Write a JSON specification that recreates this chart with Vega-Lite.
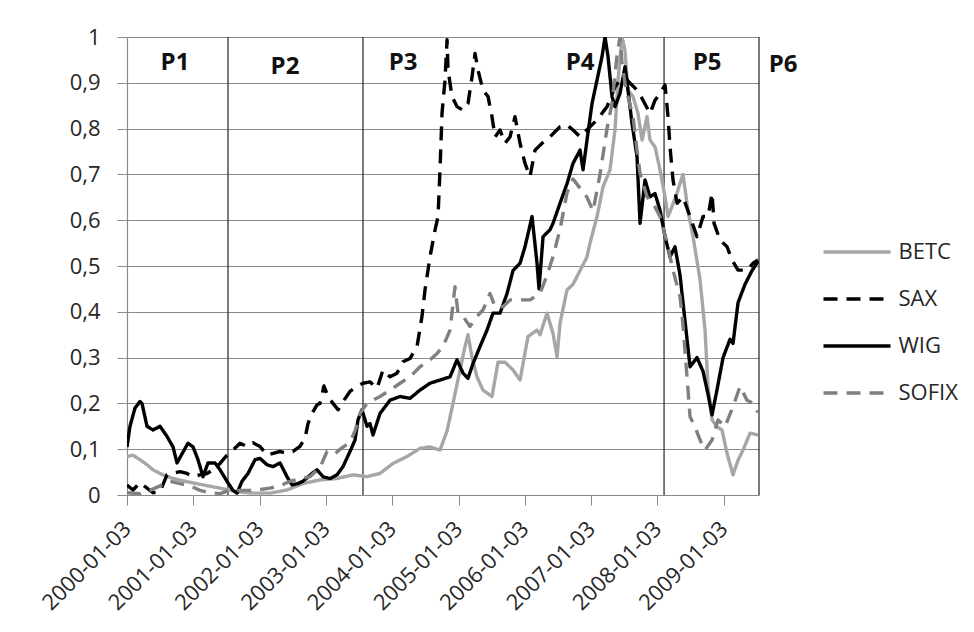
{
  "$schema": "https://vega.github.io/schema/vega-lite/v6.json",
  "width": 632,
  "height": 458,
  "autosize": {"type": "none"},
  "padding": {"left": 127, "top": 37, "right": 215, "bottom": 137},
  "background": "white",
  "config": {"view": {"stroke": null}, "font": "Open Sans"},
  "layer": [
    {
      "data": {"values": [
        {"t": 2001.523}, {"t": 2003.559}, {"t": 2008.100}, {"t": 2009.532}
      ]},
      "mark": {"type": "rule", "color": "#333333", "strokeWidth": 1.3},
      "encoding": {"x": {"field": "t", "type": "quantitative"}}
    },
    {
      "data": {"values": [
        {"s":"BETC","t":2000.000,"v":0.084},{"s":"BETC","t":2000.090,"v":0.087},{"s":"BETC","t":2000.196,"v":0.077},{"s":"BETC","t":2000.302,"v":0.066},{"s":"BETC","t":2000.392,"v":0.055},{"s":"BETC","t":2000.543,"v":0.044},{"s":"BETC","t":2000.694,"v":0.036},{"s":"BETC","t":2000.905,"v":0.029},{"s":"BETC","t":2001.146,"v":0.022},{"s":"BETC","t":2001.403,"v":0.015},{"s":"BETC","t":2001.659,"v":0.007},{"s":"BETC","t":2001.900,"v":0.004},{"s":"BETC","t":2002.157,"v":0.004},{"s":"BETC","t":2002.413,"v":0.011},{"s":"BETC","t":2002.655,"v":0.025},{"s":"BETC","t":2002.911,"v":0.033},{"s":"BETC","t":2003.167,"v":0.036},{"s":"BETC","t":2003.409,"v":0.044},{"s":"BETC","t":2003.620,"v":0.040},{"s":"BETC","t":2003.816,"v":0.047},{"s":"BETC","t":2004.012,"v":0.069},{"s":"BETC","t":2004.223,"v":0.084},{"s":"BETC","t":2004.419,"v":0.102},{"s":"BETC","t":2004.570,"v":0.105},{"s":"BETC","t":2004.721,"v":0.098},{"s":"BETC","t":2004.827,"v":0.140},{"s":"BETC","t":2004.917,"v":0.200},{"s":"BETC","t":2005.023,"v":0.273},{"s":"BETC","t":2005.098,"v":0.324},{"s":"BETC","t":2005.143,"v":0.350},{"s":"BETC","t":2005.204,"v":0.300},{"s":"BETC","t":2005.279,"v":0.258},{"s":"BETC","t":2005.369,"v":0.229},{"s":"BETC","t":2005.505,"v":0.215},{"s":"BETC","t":2005.596,"v":0.290},{"s":"BETC","t":2005.701,"v":0.290},{"s":"BETC","t":2005.822,"v":0.273},{"s":"BETC","t":2005.928,"v":0.251},{"s":"BETC","t":2006.048,"v":0.346},{"s":"BETC","t":2006.184,"v":0.360},{"s":"BETC","t":2006.229,"v":0.350},{"s":"BETC","t":2006.335,"v":0.397},{"s":"BETC","t":2006.425,"v":0.353},{"s":"BETC","t":2006.486,"v":0.302},{"s":"BETC","t":2006.531,"v":0.375},{"s":"BETC","t":2006.637,"v":0.448},{"s":"BETC","t":2006.727,"v":0.460},{"s":"BETC","t":2006.833,"v":0.490},{"s":"BETC","t":2006.938,"v":0.520},{"s":"BETC","t":2006.983,"v":0.550},{"s":"BETC","t":2007.089,"v":0.608},{"s":"BETC","t":2007.180,"v":0.673},{"s":"BETC","t":2007.285,"v":0.710},{"s":"BETC","t":2007.360,"v":0.797},{"s":"BETC","t":2007.406,"v":0.906},{"s":"BETC","t":2007.466,"v":1.000},{"s":"BETC","t":2007.511,"v":0.970},{"s":"BETC","t":2007.556,"v":0.884},{"s":"BETC","t":2007.632,"v":0.870},{"s":"BETC","t":2007.707,"v":0.833},{"s":"BETC","t":2007.768,"v":0.775},{"s":"BETC","t":2007.843,"v":0.826},{"s":"BETC","t":2007.888,"v":0.775},{"s":"BETC","t":2007.964,"v":0.760},{"s":"BETC","t":2008.039,"v":0.710},{"s":"BETC","t":2008.115,"v":0.651},{"s":"BETC","t":2008.160,"v":0.608},{"s":"BETC","t":2008.220,"v":0.630},{"s":"BETC","t":2008.296,"v":0.660},{"s":"BETC","t":2008.386,"v":0.700},{"s":"BETC","t":2008.462,"v":0.620},{"s":"BETC","t":2008.537,"v":0.564},{"s":"BETC","t":2008.643,"v":0.470},{"s":"BETC","t":2008.718,"v":0.360},{"s":"BETC","t":2008.763,"v":0.237},{"s":"BETC","t":2008.824,"v":0.164},{"s":"BETC","t":2008.899,"v":0.149},{"s":"BETC","t":2008.974,"v":0.142},{"s":"BETC","t":2009.050,"v":0.091},{"s":"BETC","t":2009.140,"v":0.044},{"s":"BETC","t":2009.216,"v":0.076},{"s":"BETC","t":2009.291,"v":0.098},{"s":"BETC","t":2009.397,"v":0.135},{"s":"BETC","t":2009.517,"v":0.131},

        {"s":"SAX","t":2000.000,"v":0.022},{"s":"SAX","t":2000.090,"v":0.011},{"s":"SAX","t":2000.196,"v":0.027},{"s":"SAX","t":2000.302,"v":0.015},{"s":"SAX","t":2000.392,"v":0.005},{"s":"SAX","t":2000.498,"v":0.007},{"s":"SAX","t":2000.603,"v":0.044},{"s":"SAX","t":2000.694,"v":0.047},{"s":"SAX","t":2000.799,"v":0.051},{"s":"SAX","t":2000.905,"v":0.047},{"s":"SAX","t":2000.996,"v":0.040},{"s":"SAX","t":2001.101,"v":0.044},{"s":"SAX","t":2001.207,"v":0.047},{"s":"SAX","t":2001.297,"v":0.055},{"s":"SAX","t":2001.403,"v":0.069},{"s":"SAX","t":2001.508,"v":0.087},{"s":"SAX","t":2001.599,"v":0.098},{"s":"SAX","t":2001.704,"v":0.113},{"s":"SAX","t":2001.810,"v":0.106},{"s":"SAX","t":2001.900,"v":0.114},{"s":"SAX","t":2002.006,"v":0.106},{"s":"SAX","t":2002.112,"v":0.087},{"s":"SAX","t":2002.202,"v":0.091},{"s":"SAX","t":2002.308,"v":0.095},{"s":"SAX","t":2002.413,"v":0.091},{"s":"SAX","t":2002.504,"v":0.095},{"s":"SAX","t":2002.609,"v":0.106},{"s":"SAX","t":2002.685,"v":0.124},{"s":"SAX","t":2002.730,"v":0.156},{"s":"SAX","t":2002.790,"v":0.178},{"s":"SAX","t":2002.866,"v":0.197},{"s":"SAX","t":2002.911,"v":0.200},{"s":"SAX","t":2002.971,"v":0.238},{"s":"SAX","t":2003.032,"v":0.215},{"s":"SAX","t":2003.107,"v":0.200},{"s":"SAX","t":2003.183,"v":0.186},{"s":"SAX","t":2003.258,"v":0.204},{"s":"SAX","t":2003.363,"v":0.226},{"s":"SAX","t":2003.469,"v":0.237},{"s":"SAX","t":2003.559,"v":0.244},{"s":"SAX","t":2003.665,"v":0.247},{"s":"SAX","t":2003.771,"v":0.233},{"s":"SAX","t":2003.861,"v":0.273},{"s":"SAX","t":2003.967,"v":0.258},{"s":"SAX","t":2004.072,"v":0.266},{"s":"SAX","t":2004.163,"v":0.291},{"s":"SAX","t":2004.268,"v":0.298},{"s":"SAX","t":2004.374,"v":0.324},{"s":"SAX","t":2004.449,"v":0.390},{"s":"SAX","t":2004.495,"v":0.448},{"s":"SAX","t":2004.570,"v":0.520},{"s":"SAX","t":2004.646,"v":0.579},{"s":"SAX","t":2004.691,"v":0.608},{"s":"SAX","t":2004.721,"v":0.710},{"s":"SAX","t":2004.751,"v":0.833},{"s":"SAX","t":2004.796,"v":0.906},{"s":"SAX","t":2004.827,"v":0.994},{"s":"SAX","t":2004.842,"v":0.928},{"s":"SAX","t":2004.902,"v":0.870},{"s":"SAX","t":2004.977,"v":0.848},{"s":"SAX","t":2005.068,"v":0.840},{"s":"SAX","t":2005.143,"v":0.855},{"s":"SAX","t":2005.204,"v":0.913},{"s":"SAX","t":2005.249,"v":0.964},{"s":"SAX","t":2005.294,"v":0.928},{"s":"SAX","t":2005.369,"v":0.884},{"s":"SAX","t":2005.445,"v":0.870},{"s":"SAX","t":2005.505,"v":0.826},{"s":"SAX","t":2005.551,"v":0.782},{"s":"SAX","t":2005.626,"v":0.797},{"s":"SAX","t":2005.701,"v":0.768},{"s":"SAX","t":2005.777,"v":0.782},{"s":"SAX","t":2005.852,"v":0.826},{"s":"SAX","t":2005.928,"v":0.768},{"s":"SAX","t":2006.003,"v":0.724},{"s":"SAX","t":2006.078,"v":0.695},{"s":"SAX","t":2006.154,"v":0.753},{"s":"SAX","t":2006.260,"v":0.768},{"s":"SAX","t":2006.380,"v":0.782},{"s":"SAX","t":2006.531,"v":0.804},{"s":"SAX","t":2006.637,"v":0.808},{"s":"SAX","t":2006.727,"v":0.797},{"s":"SAX","t":2006.833,"v":0.782},{"s":"SAX","t":2006.983,"v":0.804},{"s":"SAX","t":2007.089,"v":0.819},{"s":"SAX","t":2007.240,"v":0.848},{"s":"SAX","t":2007.360,"v":0.891},{"s":"SAX","t":2007.436,"v":0.906},{"s":"SAX","t":2007.541,"v":0.906},{"s":"SAX","t":2007.692,"v":0.884},{"s":"SAX","t":2007.783,"v":0.862},{"s":"SAX","t":2007.888,"v":0.833},{"s":"SAX","t":2007.964,"v":0.862},{"s":"SAX","t":2008.039,"v":0.877},{"s":"SAX","t":2008.115,"v":0.895},{"s":"SAX","t":2008.160,"v":0.826},{"s":"SAX","t":2008.190,"v":0.760},{"s":"SAX","t":2008.235,"v":0.688},{"s":"SAX","t":2008.296,"v":0.637},{"s":"SAX","t":2008.386,"v":0.651},{"s":"SAX","t":2008.492,"v":0.608},{"s":"SAX","t":2008.597,"v":0.564},{"s":"SAX","t":2008.688,"v":0.608},{"s":"SAX","t":2008.763,"v":0.608},{"s":"SAX","t":2008.824,"v":0.659},{"s":"SAX","t":2008.854,"v":0.593},{"s":"SAX","t":2008.944,"v":0.557},{"s":"SAX","t":2009.050,"v":0.542},{"s":"SAX","t":2009.125,"v":0.513},{"s":"SAX","t":2009.216,"v":0.491},{"s":"SAX","t":2009.351,"v":0.491},{"s":"SAX","t":2009.442,"v":0.506},{"s":"SAX","t":2009.517,"v":0.513},

        {"s":"WIG","t":2000.000,"v":0.105},{"s":"WIG","t":2000.045,"v":0.150},{"s":"WIG","t":2000.121,"v":0.190},{"s":"WIG","t":2000.196,"v":0.204},{"s":"WIG","t":2000.226,"v":0.200},{"s":"WIG","t":2000.302,"v":0.150},{"s":"WIG","t":2000.392,"v":0.142},{"s":"WIG","t":2000.498,"v":0.150},{"s":"WIG","t":2000.603,"v":0.128},{"s":"WIG","t":2000.694,"v":0.105},{"s":"WIG","t":2000.754,"v":0.070},{"s":"WIG","t":2000.830,"v":0.090},{"s":"WIG","t":2000.920,"v":0.113},{"s":"WIG","t":2000.996,"v":0.105},{"s":"WIG","t":2001.071,"v":0.077},{"s":"WIG","t":2001.146,"v":0.040},{"s":"WIG","t":2001.222,"v":0.070},{"s":"WIG","t":2001.327,"v":0.070},{"s":"WIG","t":2001.403,"v":0.055},{"s":"WIG","t":2001.508,"v":0.030},{"s":"WIG","t":2001.599,"v":0.010},{"s":"WIG","t":2001.659,"v":0.004},{"s":"WIG","t":2001.735,"v":0.030},{"s":"WIG","t":2001.825,"v":0.047},{"s":"WIG","t":2001.931,"v":0.077},{"s":"WIG","t":2002.006,"v":0.080},{"s":"WIG","t":2002.112,"v":0.066},{"s":"WIG","t":2002.202,"v":0.062},{"s":"WIG","t":2002.308,"v":0.070},{"s":"WIG","t":2002.413,"v":0.040},{"s":"WIG","t":2002.489,"v":0.022},{"s":"WIG","t":2002.579,"v":0.025},{"s":"WIG","t":2002.655,"v":0.030},{"s":"WIG","t":2002.790,"v":0.047},{"s":"WIG","t":2002.866,"v":0.055},{"s":"WIG","t":2002.956,"v":0.040},{"s":"WIG","t":2003.062,"v":0.036},{"s":"WIG","t":2003.167,"v":0.044},{"s":"WIG","t":2003.258,"v":0.062},{"s":"WIG","t":2003.363,"v":0.095},{"s":"WIG","t":2003.439,"v":0.120},{"s":"WIG","t":2003.484,"v":0.164},{"s":"WIG","t":2003.544,"v":0.186},{"s":"WIG","t":2003.620,"v":0.150},{"s":"WIG","t":2003.665,"v":0.156},{"s":"WIG","t":2003.710,"v":0.131},{"s":"WIG","t":2003.816,"v":0.178},{"s":"WIG","t":2003.967,"v":0.207},{"s":"WIG","t":2004.118,"v":0.215},{"s":"WIG","t":2004.268,"v":0.211},{"s":"WIG","t":2004.419,"v":0.229},{"s":"WIG","t":2004.570,"v":0.244},{"s":"WIG","t":2004.721,"v":0.251},{"s":"WIG","t":2004.872,"v":0.258},{"s":"WIG","t":2004.977,"v":0.295},{"s":"WIG","t":2005.068,"v":0.266},{"s":"WIG","t":2005.143,"v":0.255},{"s":"WIG","t":2005.219,"v":0.287},{"s":"WIG","t":2005.324,"v":0.324},{"s":"WIG","t":2005.430,"v":0.360},{"s":"WIG","t":2005.520,"v":0.397},{"s":"WIG","t":2005.626,"v":0.397},{"s":"WIG","t":2005.732,"v":0.440},{"s":"WIG","t":2005.822,"v":0.490},{"s":"WIG","t":2005.928,"v":0.506},{"s":"WIG","t":2006.003,"v":0.542},{"s":"WIG","t":2006.109,"v":0.608},{"s":"WIG","t":2006.184,"v":0.506},{"s":"WIG","t":2006.214,"v":0.450},{"s":"WIG","t":2006.275,"v":0.564},{"s":"WIG","t":2006.380,"v":0.579},{"s":"WIG","t":2006.425,"v":0.593},{"s":"WIG","t":2006.531,"v":0.637},{"s":"WIG","t":2006.637,"v":0.680},{"s":"WIG","t":2006.727,"v":0.724},{"s":"WIG","t":2006.833,"v":0.753},{"s":"WIG","t":2006.878,"v":0.710},{"s":"WIG","t":2006.938,"v":0.775},{"s":"WIG","t":2007.014,"v":0.855},{"s":"WIG","t":2007.089,"v":0.906},{"s":"WIG","t":2007.164,"v":0.957},{"s":"WIG","t":2007.210,"v":1.000},{"s":"WIG","t":2007.255,"v":0.957},{"s":"WIG","t":2007.315,"v":0.870},{"s":"WIG","t":2007.360,"v":0.848},{"s":"WIG","t":2007.436,"v":0.877},{"s":"WIG","t":2007.511,"v":0.935},{"s":"WIG","t":2007.556,"v":0.884},{"s":"WIG","t":2007.617,"v":0.811},{"s":"WIG","t":2007.692,"v":0.739},{"s":"WIG","t":2007.738,"v":0.593},{"s":"WIG","t":2007.813,"v":0.688},{"s":"WIG","t":2007.888,"v":0.651},{"s":"WIG","t":2007.964,"v":0.658},{"s":"WIG","t":2008.039,"v":0.622},{"s":"WIG","t":2008.115,"v":0.564},{"s":"WIG","t":2008.190,"v":0.520},{"s":"WIG","t":2008.265,"v":0.542},{"s":"WIG","t":2008.341,"v":0.480},{"s":"WIG","t":2008.416,"v":0.380},{"s":"WIG","t":2008.492,"v":0.280},{"s":"WIG","t":2008.597,"v":0.300},{"s":"WIG","t":2008.688,"v":0.270},{"s":"WIG","t":2008.763,"v":0.220},{"s":"WIG","t":2008.824,"v":0.175},{"s":"WIG","t":2008.899,"v":0.230},{"s":"WIG","t":2008.990,"v":0.300},{"s":"WIG","t":2009.095,"v":0.340},{"s":"WIG","t":2009.140,"v":0.331},{"s":"WIG","t":2009.216,"v":0.420},{"s":"WIG","t":2009.321,"v":0.460},{"s":"WIG","t":2009.427,"v":0.490},{"s":"WIG","t":2009.517,"v":0.510},

        {"s":"SOFIX","t":2000.000,"v":0.005},{"s":"SOFIX","t":2000.196,"v":0.003},{"s":"SOFIX","t":2000.347,"v":0.010},{"s":"SOFIX","t":2000.498,"v":0.020},{"s":"SOFIX","t":2000.649,"v":0.030},{"s":"SOFIX","t":2000.799,"v":0.025},{"s":"SOFIX","t":2000.950,"v":0.020},{"s":"SOFIX","t":2001.101,"v":0.010},{"s":"SOFIX","t":2001.252,"v":0.005},{"s":"SOFIX","t":2001.403,"v":0.003},{"s":"SOFIX","t":2001.554,"v":0.010},{"s":"SOFIX","t":2001.704,"v":0.010},{"s":"SOFIX","t":2001.855,"v":0.010},{"s":"SOFIX","t":2002.006,"v":0.012},{"s":"SOFIX","t":2002.157,"v":0.015},{"s":"SOFIX","t":2002.308,"v":0.020},{"s":"SOFIX","t":2002.459,"v":0.030},{"s":"SOFIX","t":2002.609,"v":0.035},{"s":"SOFIX","t":2002.760,"v":0.040},{"s":"SOFIX","t":2002.911,"v":0.060},{"s":"SOFIX","t":2003.017,"v":0.095},{"s":"SOFIX","t":2003.137,"v":0.090},{"s":"SOFIX","t":2003.213,"v":0.100},{"s":"SOFIX","t":2003.363,"v":0.115},{"s":"SOFIX","t":2003.439,"v":0.140},{"s":"SOFIX","t":2003.514,"v":0.178},{"s":"SOFIX","t":2003.620,"v":0.200},{"s":"SOFIX","t":2003.816,"v":0.215},{"s":"SOFIX","t":2003.967,"v":0.229},{"s":"SOFIX","t":2004.118,"v":0.244},{"s":"SOFIX","t":2004.268,"v":0.258},{"s":"SOFIX","t":2004.419,"v":0.280},{"s":"SOFIX","t":2004.570,"v":0.295},{"s":"SOFIX","t":2004.676,"v":0.309},{"s":"SOFIX","t":2004.766,"v":0.324},{"s":"SOFIX","t":2004.872,"v":0.360},{"s":"SOFIX","t":2004.947,"v":0.455},{"s":"SOFIX","t":2004.992,"v":0.397},{"s":"SOFIX","t":2005.068,"v":0.390},{"s":"SOFIX","t":2005.173,"v":0.368},{"s":"SOFIX","t":2005.279,"v":0.390},{"s":"SOFIX","t":2005.369,"v":0.404},{"s":"SOFIX","t":2005.475,"v":0.440},{"s":"SOFIX","t":2005.551,"v":0.411},{"s":"SOFIX","t":2005.671,"v":0.411},{"s":"SOFIX","t":2005.777,"v":0.426},{"s":"SOFIX","t":2005.928,"v":0.426},{"s":"SOFIX","t":2006.078,"v":0.426},{"s":"SOFIX","t":2006.229,"v":0.440},{"s":"SOFIX","t":2006.335,"v":0.480},{"s":"SOFIX","t":2006.425,"v":0.520},{"s":"SOFIX","t":2006.531,"v":0.580},{"s":"SOFIX","t":2006.637,"v":0.660},{"s":"SOFIX","t":2006.727,"v":0.690},{"s":"SOFIX","t":2006.833,"v":0.670},{"s":"SOFIX","t":2006.938,"v":0.650},{"s":"SOFIX","t":2007.029,"v":0.620},{"s":"SOFIX","t":2007.134,"v":0.700},{"s":"SOFIX","t":2007.240,"v":0.800},{"s":"SOFIX","t":2007.315,"v":0.855},{"s":"SOFIX","t":2007.391,"v":0.960},{"s":"SOFIX","t":2007.436,"v":1.000},{"s":"SOFIX","t":2007.466,"v":0.942},{"s":"SOFIX","t":2007.511,"v":0.899},{"s":"SOFIX","t":2007.556,"v":0.870},{"s":"SOFIX","t":2007.632,"v":0.826},{"s":"SOFIX","t":2007.692,"v":0.753},{"s":"SOFIX","t":2007.738,"v":0.702},{"s":"SOFIX","t":2007.843,"v":0.651},{"s":"SOFIX","t":2007.934,"v":0.637},{"s":"SOFIX","t":2008.039,"v":0.608},{"s":"SOFIX","t":2008.145,"v":0.550},{"s":"SOFIX","t":2008.235,"v":0.491},{"s":"SOFIX","t":2008.341,"v":0.433},{"s":"SOFIX","t":2008.386,"v":0.370},{"s":"SOFIX","t":2008.446,"v":0.258},{"s":"SOFIX","t":2008.492,"v":0.171},{"s":"SOFIX","t":2008.567,"v":0.149},{"s":"SOFIX","t":2008.643,"v":0.120},{"s":"SOFIX","t":2008.718,"v":0.098},{"s":"SOFIX","t":2008.824,"v":0.120},{"s":"SOFIX","t":2008.914,"v":0.164},{"s":"SOFIX","t":2009.020,"v":0.149},{"s":"SOFIX","t":2009.140,"v":0.193},{"s":"SOFIX","t":2009.246,"v":0.237},{"s":"SOFIX","t":2009.351,"v":0.207},{"s":"SOFIX","t":2009.442,"v":0.200},{"s":"SOFIX","t":2009.517,"v":0.180}
      ]},
      "mark": {"type": "line", "strokeWidth": 3.4, "strokeCap": "butt", "strokeJoin": "round", "clip": true},
      "encoding": {
        "x": {
          "field": "t", "type": "quantitative",
          "scale": {"domain": [2000, 2009.532], "nice": false, "zero": false},
          "axis": {
            "title": null, "grid": false,
            "values": [2000, 2001, 2002, 2003, 2004, 2005, 2006, 2007, 2008, 2009],
            "labelExpr": "datum.value + '-01-03'",
            "labelAngle": -45, "labelAlign": "right", "labelBaseline": "middle",
            "labelFontSize": 22, "labelColor": "#262626", "labelPadding": 20,
            "labelFlush": false, "labelOverlap": false, "labelBound": false,
            "tickSize": 10, "tickColor": "#8a8a8a", "domainColor": "#8a8a8a", "domainWidth": 1.2
          }
        },
        "y": {
          "field": "v", "type": "quantitative",
          "scale": {"domain": [0, 1], "nice": false},
          "axis": {
            "title": null, "grid": true, "gridColor": "#8a8a8a", "gridWidth": 1,
            "values": [0, 0.1, 0.2, 0.3, 0.4, 0.5, 0.6, 0.7, 0.8, 0.9, 1],
            "labelExpr": "replace(format(datum.value, '.1~f'), '.', ',')",
            "labelFontSize": 22, "labelColor": "#262626", "labelPadding": 17,
            "labelFlush": false, "labelOverlap": false,
            "tickSize": 10, "tickColor": "#8a8a8a", "domainColor": "#8a8a8a", "domainWidth": 1.2
          }
        },
        "color": {
          "field": "s", "type": "nominal",
          "scale": {"domain": ["BETC", "SAX", "WIG", "SOFIX"], "range": ["#a6a6a6", "#000000", "#000000", "#808080"]},
          "legend": {
            "title": null, "orient": "none", "legendX": 694.5, "legendY": 192.5,
            "symbolType": "stroke", "symbolSize": 4489, "symbolStrokeWidth": 3.4,
            "clipHeight": 45, "rowPadding": 2, "padding": 0,
            "labelFontSize": 22, "labelColor": "#262626", "labelOffset": 6
          }
        },
        "strokeDash": {
          "field": "s", "type": "nominal",
          "scale": {"domain": ["BETC", "SAX", "WIG", "SOFIX"], "range": [[1, 0], [14, 9], [1, 0], [14, 9]]},
          "legend": {
            "title": null, "orient": "none", "legendX": 694.5, "legendY": 192.5,
            "symbolType": "stroke", "symbolSize": 4489, "symbolStrokeWidth": 3.4,
            "clipHeight": 45, "rowPadding": 2, "padding": 0,
            "labelFontSize": 22, "labelColor": "#262626", "labelOffset": 6
          }
        }
      }
    },
    {
      "data": {"values": [
        {"p": "P1", "t": 2000.724, "v": 0.943},
        {"p": "P2", "t": 2002.383, "v": 0.934},
        {"p": "P3", "t": 2004.163, "v": 0.943},
        {"p": "P4", "t": 2006.833, "v": 0.943},
        {"p": "P5", "t": 2008.748, "v": 0.943},
        {"p": "P6", "t": 2009.895, "v": 0.939}
      ]},
      "mark": {"type": "text", "fontSize": 24, "fontWeight": "bold", "color": "#111111", "align": "center", "baseline": "middle", "clip": false},
      "encoding": {
        "x": {"field": "t", "type": "quantitative"},
        "y": {"field": "v", "type": "quantitative"},
        "text": {"field": "p"}
      }
    }
  ]
}
